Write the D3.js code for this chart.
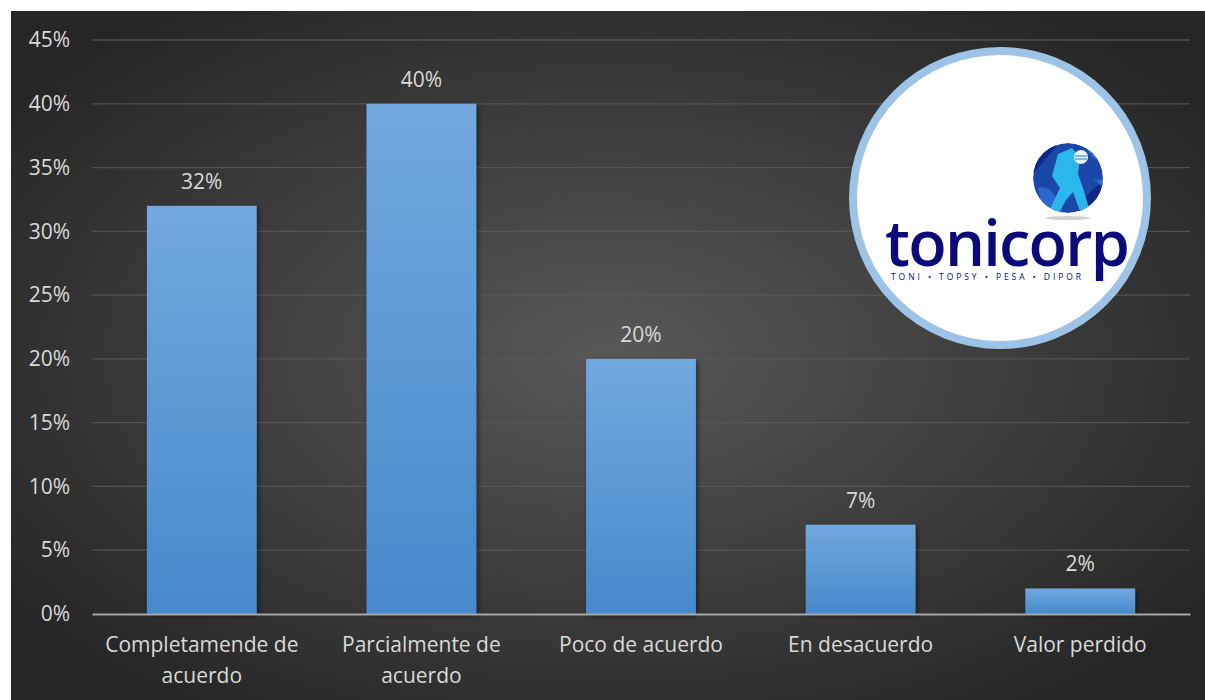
<!DOCTYPE html>
<html>
<head>
<meta charset="utf-8">
<script src="https://cdn.jsdelivr.net/npm/d3@7"></script>
<style>
  body { margin: 0; background: #fff; }
  svg { display: block; }
  text { font-family: "Open Sans", "Noto Sans", sans-serif; }
</style>
</head>
<body>
<div id="chart"></div>
<script>
// Data
var categories = [["Completamende de", "acuerdo"], ["Parcialmente de", "acuerdo"], ["Poco de acuerdo"], ["En desacuerdo"], ["Valor perdido"]];
var values = [32, 40, 20, 7, 2];
var yTicks = [0, 5, 10, 15, 20, 25, 30, 35, 40, 45];

// Chart dimensions
var W = 1205, H = 700;
var margin = {top: 40, right: 15, bottom: 86, left: 92};
var width = 1190 - margin.left;
var height = 614 - margin.top;

var svg = d3.select("#chart").append("svg")
    .attr("width", W)
    .attr("height", H);

var defs = svg.append("defs");

// background gradient
var bg = defs.append("radialGradient")
    .attr("id", "bg")
    .attr("cx", "50%").attr("cy", "50%").attr("r", "62%");
bg.append("stop").attr("offset", "0%").attr("stop-color", "#585858");
bg.append("stop").attr("offset", "100%").attr("stop-color", "#262626");

var barGrad = defs.append("linearGradient")
    .attr("id", "barGrad")
    .attr("x1", 0).attr("y1", 0).attr("x2", 0).attr("y2", 1);
barGrad.append("stop").attr("offset", "0%").attr("stop-color", "#72a8de");
barGrad.append("stop").attr("offset", "100%").attr("stop-color", "#4689cb");

var shadow = defs.append("filter").attr("id", "shadow")
    .attr("x", "-10%").attr("y", "-10%").attr("width", "130%").attr("height", "130%");
shadow.append("feDropShadow")
    .attr("dx", 2).attr("dy", 2).attr("stdDeviation", 2.5)
    .attr("flood-color", "#000").attr("flood-opacity", 0.45);

svg.append("rect")
    .attr("x", 11).attr("y", 11)
    .attr("width", W - 11).attr("height", H - 11)
    .attr("fill", "url(#bg)");

var g = svg.append("g")
    .attr("transform", "translate(" + margin.left + "," + margin.top + ")");

var x = d3.scaleBand()
    .domain(d3.range(categories.length))
    .range([0, width])
    .paddingInner(0.5)
    .paddingOuter(0.25);

var y = d3.scaleLinear()
    .domain([0, 45])
    .range([height, 0]);

// gridlines
g.selectAll(".grid")
    .data(yTicks.slice(1))
    .enter().append("line")
    .attr("class", "grid")
    .attr("x1", 0).attr("x2", width)
    .attr("y1", function(d) { return y(d); })
    .attr("y2", function(d) { return y(d); })
    .attr("stroke", "#5c5c5c")
    .attr("stroke-opacity", 0.75)
    .attr("stroke-width", 1.3);

// y axis labels
var yAxis = g.append("g")
    .call(d3.axisLeft(y).tickValues(yTicks).tickSize(0).tickPadding(22)
        .tickFormat(function(d) { return d + "%"; }));
yAxis.select(".domain").remove();
yAxis.selectAll("text")
    .attr("fill", "#d9d9d9")
    .attr("font-size", 21)
    .attr("font-family", "'Open Sans', sans-serif");

// bars
g.selectAll(".bar")
    .data(values)
    .enter().append("rect")
    .attr("class", "bar")
    .attr("x", function(d, i) { return x(i); })
    .attr("y", function(d) { return y(d); })
    .attr("width", x.bandwidth())
    .attr("height", function(d) { return height - y(d); })
    .attr("fill", "url(#barGrad)")
    .attr("filter", "url(#shadow)");

// value labels
g.selectAll(".val")
    .data(values)
    .enter().append("text")
    .attr("class", "val")
    .attr("x", function(d, i) { return x(i) + x.bandwidth() / 2; })
    .attr("y", function(d) { return y(d) - 17; })
    .attr("text-anchor", "middle")
    .attr("fill", "#d9d9d9")
    .attr("font-size", 21)
    .text(function(d) { return d + "%"; });

// x axis
var xAxis = g.append("g")
    .attr("transform", "translate(0," + height + ")")
    .call(d3.axisBottom(x).tickSize(0).tickFormat(""));
xAxis.select(".domain")
    .attr("stroke", "#a6a6a6")
    .attr("stroke-width", 2.2);

g.selectAll(".cat")
    .data(categories)
    .enter().append("text")
    .attr("class", "cat")
    .attr("text-anchor", "middle")
    .attr("fill", "#d9d9d9")
    .attr("font-size", 21)
    .attr("transform", function(d, i) {
        return "translate(" + (x(i) + x.bandwidth() / 2) + "," + (height + 38) + ")";
    })
    .selectAll("tspan")
    .data(function(d) { return d; })
    .enter().append("tspan")
    .attr("x", 0)
    .attr("dy", function(d, i) { return i ? 31 : 0; })
    .text(function(d) { return d; });

// logo (picture pasted on top of the chart)
var logo = svg.append("g").attr("transform", "translate(1000,198)");
logo.append("circle")
    .attr("r", 147)
    .attr("fill", "#fff")
    .attr("stroke", "#9dc3e6")
    .attr("stroke-width", 8);

defs.append("clipPath").attr("id", "globeClip")
    .append("circle").attr("cx", 0).attr("cy", 0).attr("r", 35);
var globe = logo.append("g").attr("transform", "translate(68,-20)");
var gc = globe.append("g").attr("clip-path", "url(#globeClip)");
gc.append("circle").attr("r", 35).attr("fill", "#1b47a8");
gc.append("path")
    .attr("d", "M-35,-5 Q-20,-20 -10,-35 L-35,-35 Z M10,35 Q20,10 35,5 L35,35 Z M-35,20 Q-20,25 -15,35 L-35,35 Z")
    .attr("fill", "#10278a");
gc.append("path")
    .attr("d", "M-30,10 Q-15,5 -5,35 L-25,35 Z M15,-35 Q25,-15 35,-18 L35,-35 Z M20,-5 Q28,5 35,0 L35,10 Z")
    .attr("fill", "#2f6fd4")
    .attr("opacity", 0.85);
// walker
gc.append("path")
    .attr("d", "M-10,-24 L4,-30 L12,-20 L10,-4 L15,10 L22,34 L13,36 L5,14 L-2,22 L-10,36 L-19,33 L-8,10 L-16,-2 Z")
    .attr("fill", "#2ab8ec");
gc.append("circle").attr("cx", 13).attr("cy", -21).attr("r", 7).attr("fill", "#e6f6fc");
gc.append("path").attr("d", "M7,-22 L19,-22 M7,-19 L19,-19")
    .attr("stroke", "#2a6fd0").attr("stroke-width", 1.2);
globe.append("ellipse").attr("cx", 0).attr("cy", 40).attr("rx", 22).attr("ry", 2)
    .attr("fill", "#d0d0d0");

logo.append("text")
    .attr("x", -115).attr("y", 68)
    .attr("font-size", 63)
    .attr("font-weight", 600)
    .attr("fill", "#0a0a7a")
    .attr("textLength", 245)
    .text("tonicorp");
logo.append("text")
    .attr("x", -109).attr("y", 82)
    .attr("font-size", 8.5)
    .attr("fill", "#0a0a7a")
    .attr("textLength", 190)
    .text("TONI  •  TOPSY  •  PESA  •  DIPOR");
</script>
</body>
</html>
